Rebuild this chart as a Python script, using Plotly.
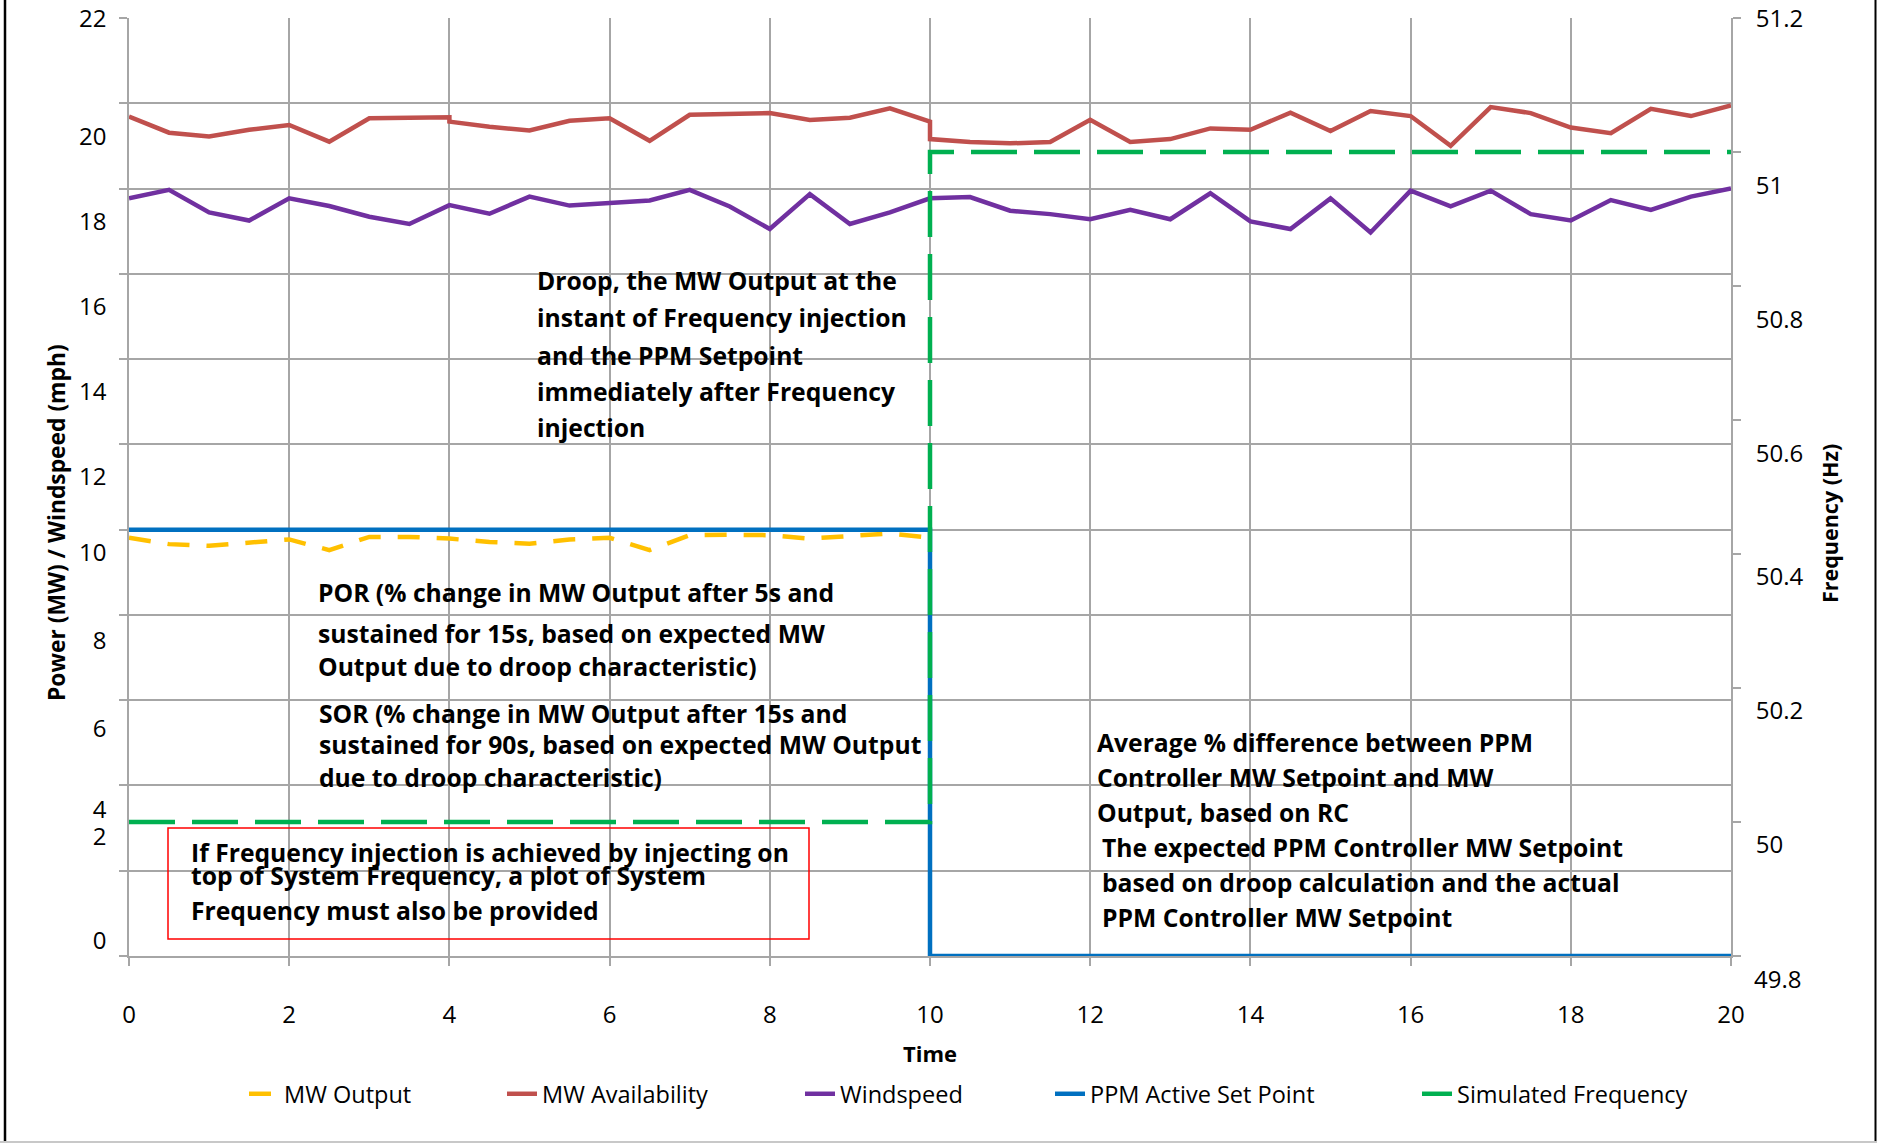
import plotly.graph_objects as go

# ---------------- data ----------------
avail_t = [0, 0.5, 1, 1.5, 2, 2.5, 3, 3.5, 4, 4, 4.5, 5, 5.5, 6, 6.5, 7, 7.5, 8, 8.5, 9, 9.5, 10,
           10, 10.5, 11, 11.5, 12, 12.5, 13, 13.5, 14, 14.5, 15, 15.5, 16, 16.5, 17, 17.5, 18, 18.5,
           19, 19.5, 20]
mw_availability = [19.69, 19.31, 19.22, 19.38, 19.49, 19.10, 19.65, 19.66, 19.67, 19.57, 19.45, 19.36,
                   19.59, 19.65, 19.12, 19.73, 19.76, 19.77, 19.61, 19.66, 19.88, 19.57,
                   19.16, 19.09, 19.06, 19.09, 19.61, 19.09, 19.16, 19.41, 19.38, 19.78, 19.35, 19.82,
                   19.70, 19.00, 19.91, 19.77, 19.43, 19.30, 19.87, 19.70, 19.95]

wind_t = [0, 0.5, 1, 1.5, 2, 2.5, 3, 3.5, 4, 4.5, 5, 5.5, 6, 6.5, 7, 7.5, 8, 8.5, 9, 9.5, 10,
          10.5, 11, 11.5, 12, 12.5, 13, 13.5, 14, 14.5, 15, 15.5, 16, 16.5, 17, 17.5, 18, 18.5, 19,
          19.5, 20]
windspeed = [17.77, 17.97, 17.44, 17.25, 17.77, 17.59, 17.34, 17.17, 17.61, 17.41, 17.81, 17.60,
             17.66, 17.72, 17.97, 17.58, 17.05, 17.87, 17.17, 17.44, 17.77,
             17.80, 17.48, 17.40, 17.28, 17.50, 17.28, 17.89, 17.23, 17.05, 17.77, 16.97, 17.95,
             17.58, 17.95, 17.40, 17.25, 17.73, 17.50, 17.81, 18.00]

output_t = [0, 0.5, 1, 1.5, 2, 2.5, 3, 3.5, 4, 4.5, 5, 5.5, 6, 6.5, 7, 7.5, 8, 8.5, 9, 9.5, 10]
mw_output = [9.81, 9.66, 9.62, 9.69, 9.77, 9.52, 9.83, 9.83, 9.79, 9.71, 9.67, 9.77, 9.81, 9.52,
             9.87, 9.88, 9.87, 9.79, 9.84, 9.91, 9.81]

setpoint_t = [0, 10, 10, 20]
ppm_setpoint = [10, 10, 0, 0]

freq_t = [0, 10, 10, 20]
sim_frequency = [50.0, 50.0, 51.0, 51.0]

x_ticks = [0, 2, 4, 6, 8, 10, 12, 14, 16, 18, 20]
left_labels = ["22", "20", "18", "16", "14", "12", "10", "8", "6", "4", "2", "0"]
left_label_pos = [21.99, 19.22, 17.23, 15.24, 13.24, 11.25, 9.47, 7.39, 5.33, 3.44, 2.81, 0.36]
right_labels = ["51.2", "51", "50.8", "50.6", "50.4", "50.2", "50", "49.8"]
right_label_pos = [51.199, 50.95, 50.75, 50.55, 50.367, 50.167, 49.967]

# ---------------- geometry ----------------
W, H = 1877, 1143
L, R, T, B = 129, 1731, 18, 956
GRID = "#A6A6A6"
FONT = "Open Sans"
TXT = 24.7


def paper_x(px):
    return (px - L) / (R - L)


def paper_y(py):
    return (B - py) / (B - T)


fig = go.Figure()
fig.add_trace(go.Scatter(x=output_t, y=mw_output, mode="lines", name="MW Output",
                         line=dict(color="#FFC000", width=4.5, dash="22px,17px"), legend="legend"))
fig.add_trace(go.Scatter(x=avail_t, y=mw_availability, mode="lines", name="MW Availability",
                         line=dict(color="#C0504D", width=4.5), legend="legend2"))
fig.add_trace(go.Scatter(x=wind_t, y=windspeed, mode="lines", name="Windspeed",
                         line=dict(color="#7030A0", width=4.5), legend="legend3"))
fig.add_trace(go.Scatter(x=setpoint_t, y=ppm_setpoint, mode="lines", name="PPM Active Set Point",
                         line=dict(color="#0070C0", width=4.5), legend="legend4"))
fig.add_trace(go.Scatter(x=freq_t, y=sim_frequency, mode="lines", name="Simulated Frequency",
                         yaxis="y2", line=dict(color="#00B050", width=4.5, dash="46px,17px"),
                         legend="legend5"))

legend_text_left = [284, 542, 840, 1090, 1457]
legend_y = 1094
leg_common = dict(xanchor="left", yanchor="middle", orientation="h",
                  bgcolor="rgba(0,0,0,0)", font=dict(family=FONT, size=23.5, color="black"))
legends = {}
for i, tx in enumerate(legend_text_left):
    key = "legend" if i == 0 else f"legend{i + 1}"
    legends[key] = dict(x=paper_x(tx - 40), y=paper_y(legend_y), **leg_common)

fig.update_layout(
    width=W, height=H,
    margin=dict(l=L, r=W - R, t=T, b=H - B, autoexpand=False),
    plot_bgcolor="white", paper_bgcolor="white",
    font=dict(family=FONT, color="black"),
    xaxis=dict(range=[0, 20], tickmode="array", tickvals=x_ticks,
               ticktext=[str(v) for v in x_ticks], ticks="outside", ticklen=8, tickwidth=1.5,
               tickcolor=GRID, showgrid=True, gridcolor=GRID, gridwidth=1.5, showline=True,
               linecolor=GRID, linewidth=1.5, zeroline=False, layer="below traces",
               tickfont=dict(family=FONT, size=24, color="black"), ticklabelstandoff=28),
    yaxis=dict(range=[0, 22], tickmode="array", tickvals=left_label_pos, ticktext=left_labels,
               ticks="", showgrid=False, zeroline=False, showline=True, linecolor=GRID,
               linewidth=1.5, layer="below traces",
               tickfont=dict(family=FONT, size=24, color="black"), ticklabelstandoff=16,
               minor=dict(tickmode="linear", tick0=0, dtick=2, ticks="outside", ticklen=8,
                          tickwidth=1.5, tickcolor=GRID, showgrid=True, gridcolor=GRID,
                          gridwidth=1.5)),
    yaxis2=dict(overlaying="y", side="right", range=[49.8, 51.2], tickmode="array",
                tickvals=right_label_pos, ticktext=right_labels[:-1], ticks="",
                showgrid=False, zeroline=False, showline=True, linecolor=GRID, linewidth=2,
                tickfont=dict(family=FONT, size=24, color="black"), ticklabelstandoff=18,
                minor=dict(tickmode="linear", tick0=49.8, dtick=0.2, ticks="outside",
                           ticklen=8, tickwidth=1.5, tickcolor=GRID, showgrid=False)),
    showlegend=True,
    **legends,
)

annotations = []
# last frequency tick label sits below the plotting area
annotations.append(dict(text=right_labels[-1], xref="paper", yref="paper", x=paper_x(1752),
                        y=paper_y(978), xanchor="left", yanchor="middle", showarrow=False,
                        font=dict(family=FONT, size=24, color="black")))
# axis titles
annotations.append(dict(text="<b>Power (MW) / Windspeed (mph)</b>", xref="paper", yref="paper",
                        x=paper_x(56), y=paper_y(523), textangle=-90, showarrow=False,
                        xanchor="center", yanchor="middle",
                        font=dict(family=FONT, size=22.8, color="black")))
annotations.append(dict(text="<b>Frequency (Hz)</b>", xref="paper", yref="paper",
                        x=paper_x(1829), y=paper_y(523), textangle=-90, showarrow=False,
                        xanchor="center", yanchor="middle",
                        font=dict(family=FONT, size=21.5, color="black")))
annotations.append(dict(text="<b>Time</b>", xref="paper", yref="paper",
                        x=paper_x(930), y=paper_y(1053), showarrow=False,
                        xanchor="center", yanchor="middle",
                        font=dict(family=FONT, size=22, color="black")))

text_blocks = [
    (["Droop, the MW Output at the", "instant of Frequency injection", "and the PPM Setpoint",
      "immediately after Frequency", "injection"], 535, [280, 318, 355, 392, 427]),
    (["POR (% change in MW Output after 5s and", "sustained for 15s, based on expected MW",
      "Output due to droop characteristic)"], 316, [592, 633, 666]),
    (["SOR (% change in MW Output after 15s and",
      "sustained for 90s, based on expected MW Output", "due to droop characteristic)"],
     317, [713, 745, 777]),
    (["If Frequency injection is achieved by injecting on",
      "top of System Frequency, a plot of System", "Frequency must also be provided"],
     189, [852, 875, 910]),
    (["Average % difference between PPM", "Controller MW Setpoint and MW",
      "Output, based on RC"], 1095, [742, 777, 812]),
    (["The expected PPM Controller MW Setpoint", "based on droop calculation and the actual",
      "PPM Controller MW Setpoint"], 1100, [847, 882, 917]),
]
for lines, px, pys in text_blocks:
    for line, py in zip(lines, pys):
        annotations.append(dict(text=f"<b>{line}</b>", xref="paper", yref="paper",
                                x=paper_x(px), y=paper_y(py), xanchor="left", yanchor="middle",
                                showarrow=False, font=dict(family=FONT, size=TXT, color="black")))

shapes = [
    dict(type="rect", xref="paper", yref="paper", x0=paper_x(168), x1=paper_x(809),
         y0=paper_y(939), y1=paper_y(828), line=dict(color="#FF0000", width=1.5)),
    dict(type="line", xref="paper", yref="paper", x0=paper_x(5), x1=paper_x(5),
         y0=paper_y(1143), y1=paper_y(0), line=dict(color="black", width=2.5)),
    dict(type="line", xref="paper", yref="paper", x0=paper_x(1875.5), x1=paper_x(1875.5),
         y0=paper_y(1143), y1=paper_y(0), line=dict(color="black", width=2)),
    dict(type="line", xref="paper", yref="paper", x0=paper_x(0), x1=paper_x(1877),
         y0=paper_y(1142), y1=paper_y(1142), line=dict(color="#C8C8C8", width=2)),
]
fig.update_layout(annotations=annotations, shapes=shapes)

fig.write_html("out.html", config={"displayModeBar": False},
               post_script="document.body.style.margin='0px';")
